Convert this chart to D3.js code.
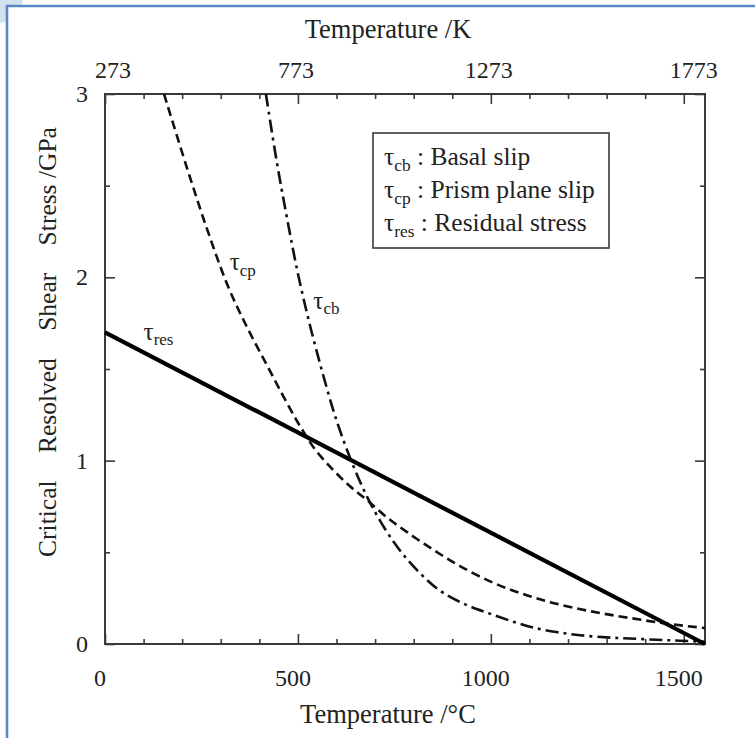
<!DOCTYPE html>
<html><head><meta charset="utf-8">
<script src="https://cdn.jsdelivr.net/npm/d3@7"></script>
<style>
html,body{margin:0;padding:0;background:#fff;}
svg{display:block;}
text{font-family:"Liberation Serif","Times New Roman",serif;fill:#222;}
</style></head><body>
<svg id="chart" width="755" height="738"></svg>
<script>
// Temperature in °C, stress in GPa
const resT   = [0, 1555];
const resTau = [1.70, 0];

const cpT   = [153, 212, 265, 319, 370, 420, 465, 505, 545, 591, 635, 679, 731, 783, 850, 920, 1005, 1080, 1161, 1260, 1360, 1460, 1555];
const cpTau = [3.0, 2.6, 2.26, 1.95, 1.72, 1.52, 1.34, 1.19, 1.06, 0.95, 0.86, 0.785, 0.69, 0.61, 0.515, 0.425, 0.335, 0.275, 0.224, 0.178, 0.142, 0.11, 0.087];

const cbT   = [417, 446, 472, 500, 531, 565, 600, 640, 680, 725, 772, 834, 876, 940, 998, 1060, 1109, 1170, 1231, 1300, 1360, 1430, 1490, 1555];
const cbTau = [3.0, 2.62, 2.32, 2.02, 1.74, 1.47, 1.22, 0.99, 0.80, 0.63, 0.49, 0.35, 0.28, 0.21, 0.165, 0.12, 0.09, 0.065, 0.048, 0.036, 0.03, 0.023, 0.018, 0.012];

const xMajor = [0, 500, 1000, 1500];
const xLabelsC = ["0", "500", "1000", "1500"];
const xLabelsK = ["273", "773", "1273", "1773"];
const yMajor = [0, 1, 2, 3];
const yMinor = [0.5, 1.5, 2.5];

const legendItems = [
  {sub: "cb", text: " : Basal slip"},
  {sub: "cp", text: " : Prism plane slip"},
  {sub: "res", text: " : Residual stress"}
];
// curve tags placed at (°C, GPa)
const curveTags = [
  {sub: "cp", T: 323, tau: 2.04},
  {sub: "cb", T: 540, tau: 1.83},
  {sub: "res", T: 100, tau: 1.66}
];

const svg = d3.select("#chart");
const L = 105, R = 705, T0 = 94, B = 644;

// page frame
const clip = svg.append("clipPath").attr("id", "cornerClip");
clip.append("rect").attr("x", 0).attr("y", 0).attr("width", 6).attr("height", 60);
clip.append("rect").attr("x", 0).attr("y", 0).attr("width", 60).attr("height", 5);
svg.append("circle").attr("cx", -2).attr("cy", -2).attr("r", 25)
  .attr("fill", "#d2e3ee").attr("clip-path", "url(#cornerClip)");
svg.append("line").attr("x1", 7).attr("x2", 7).attr("y1", 5).attr("y2", 738)
  .attr("stroke", "#5b87c6").attr("stroke-width", 2.6);
svg.append("line").attr("x1", 6).attr("x2", 755).attr("y1", 6).attr("y2", 6)
  .attr("stroke", "#5b87c6").attr("stroke-width", 2.6);

const x = d3.scaleLinear().domain([0, 1555]).range([L, R]);
const y = d3.scaleLinear().domain([0, 3]).range([B, T0]);
const xMinor = d3.range(100, 1600, 100).filter(v => !xMajor.includes(v));

const axisColor = "#3a3a3a";
function styleAxis(g) {
  g.selectAll("path.domain").remove();
  g.selectAll("line").attr("stroke", axisColor).attr("stroke-width", 1.6);
  g.selectAll("text").remove();
}

// minor and major ticks, pointing inward on all four sides
[[d3.axisBottom, B, xMinor, -5], [d3.axisBottom, B, xMajor, -10],
 [d3.axisTop, T0, xMinor, -5], [d3.axisTop, T0, xMajor, -10]].forEach(([ax, pos, vals, sz]) => {
  svg.append("g").attr("transform", `translate(0,${pos})`)
    .call(ax(x).tickValues(vals).tickSize(sz)).call(styleAxis);
});
[[d3.axisLeft, L, yMinor, -5], [d3.axisLeft, L, yMajor, -10],
 [d3.axisRight, R, yMinor, -5], [d3.axisRight, R, yMajor, -10]].forEach(([ax, pos, vals, sz]) => {
  svg.append("g").attr("transform", `translate(${pos},0)`)
    .call(ax(y).tickValues(vals).tickSize(sz)).call(styleAxis);
});

// plot frame
svg.append("rect").attr("x", L).attr("y", T0).attr("width", R - L).attr("height", B - T0)
  .attr("fill", "none").attr("stroke", axisColor).attr("stroke-width", 2);

// tick labels
const fs = 24;
svg.append("g").selectAll("text").data(xMajor).join("text")
  .attr("x", d => x(d) - 5).attr("y", 686).attr("text-anchor", "middle")
  .attr("font-size", fs).text((d, i) => xLabelsC[i]);
svg.append("g").selectAll("text").data(xMajor).join("text")
  .attr("x", (d, i) => x(d) + (i === 0 ? 8 : i === 3 ? 10 : -2)).attr("y", 78).attr("text-anchor", "middle")
  .attr("font-size", fs).text((d, i) => xLabelsK[i]);
svg.append("g").selectAll("text").data(yMajor).join("text")
  .attr("x", 88).attr("y", d => y(d) + 8).attr("text-anchor", "end")
  .attr("font-size", fs).text(d => d);

// axis titles
svg.append("text").attr("x", 388).attr("y", 38).attr("text-anchor", "middle")
  .attr("font-size", 26.5).text("Temperature /K");
svg.append("text").attr("x", 388).attr("y", 723).attr("text-anchor", "middle")
  .attr("font-size", 26.5).text("Temperature /°C");
const yt = svg.append("text").attr("transform", "translate(56,342) rotate(-90)")
  .attr("text-anchor", "middle").attr("font-size", 25.5);
["Critical", "Resolved", "Shear", "Stress /GPa"].forEach((w, i) => {
  yt.append("tspan").attr("dx", i === 0 ? 0 : 21).text((i === 0 ? "" : " ") + w);
});

// curves
const line = d3.line().x(d => x(d[0])).y(d => y(d[1])).curve(d3.curveCatmullRom.alpha(0.5));
const plot = svg.append("g");
plot.append("path").datum(d3.zip(cpT, cpTau)).attr("d", line)
  .attr("fill", "none").attr("stroke", "#111").attr("stroke-width", 2.6)
  .attr("stroke-dasharray", "9,5");
plot.append("path").datum(d3.zip(cbT, cbTau)).attr("d", line)
  .attr("fill", "none").attr("stroke", "#111").attr("stroke-width", 2.6)
  .attr("stroke-dasharray", "13,5,3,5");
plot.append("path").datum(d3.zip(resT, resTau)).attr("d", d3.line().x(d => x(d[0])).y(d => y(d[1])))
  .attr("fill", "none").attr("stroke", "#000").attr("stroke-width", 4.2);

function tauLabel(sel, sub, size) {
  sel.append("tspan").text("τ");
  sel.append("tspan").attr("font-size", size * 0.68).attr("dy", size * 0.22).text(sub);
}
curveTags.forEach(c => {
  const t = svg.append("text").attr("x", x(c.T)).attr("y", y(c.tau)).attr("font-size", 25);
  tauLabel(t, c.sub, 25);
});

// legend
svg.append("rect").attr("x", 373).attr("y", 133).attr("width", 236).attr("height", 115)
  .attr("fill", "#fff").attr("stroke", axisColor).attr("stroke-width", 1.6);
legendItems.forEach((it, i) => {
  const t = svg.append("text").attr("x", 384).attr("y", 165 + i * 33).attr("font-size", 25.5);
  tauLabel(t, it.sub, 25.5);
  t.append("tspan").attr("dy", -25.5 * 0.22).text(it.text);
});
</script>
</body></html>
